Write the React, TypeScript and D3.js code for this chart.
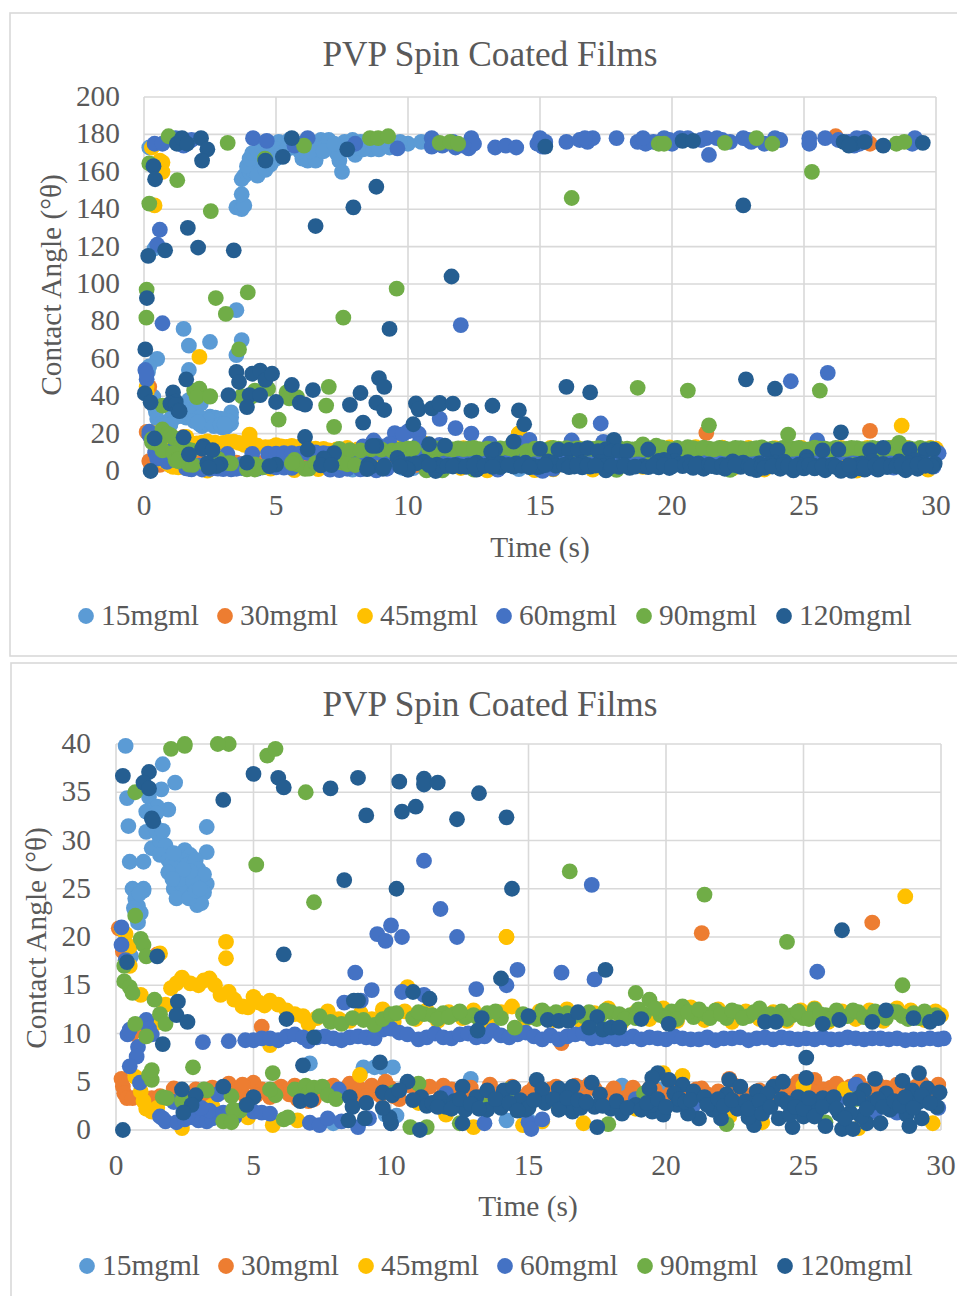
import React from "react";
import * as d3s from "d3";

type P = [number, number];

const seriesNames = ["15mgml", "30mgml", "45mgml", "60mgml", "90mgml", "120mgml"];
const seriesColors = ["#5B9BD5", "#ED7D31", "#FFC000", "#4472C4", "#70AD47", "#255E91"];
const xTicks = [0, 5, 10, 15, 20, 25, 30];
const yTicksTop = [0, 20, 40, 60, 80, 100, 120, 140, 160, 180, 200];
const yTicksBottom = [0, 5, 10, 15, 20, 25, 30, 35, 40];

// 15 mg/ml
const s15High: P[] = [[0.2,173],[0.4,119],[3.5,141],[3.7,140],[3.8,142],[3.7,148],[3.7,156],[3.8,158],[3.9,159],[4,160],[4.1,161],[4.2,163],[4.3,165],[4.4,167],[3.9,163],[4,167],[4.1,170],[4.3,171],[4.5,172],[4.7,173],[4.9,174],[5.1,176],[5.3,175],[5.5,177],[5.8,174],[6,167],[6.2,166],[6.4,174],[6.5,166],[6.7,177],[6.9,175],[7.1,173],[7.4,166],[7.5,160],[7.6,176],[7.8,174],[8,169],[8.2,176],[8.4,174],[8.6,172],[8.8,175],[9,174],[9.2,176],[9.5,175],[10,175],[10.5,176],[10.9,176],[4.6,176],[5,172],[5.6,173],[6.1,176],[6.6,172],[7,177],[7.3,170],[7.9,177],[8.3,172],[4.3,158],[4.6,161],[4.8,164],[5,167],[5.2,170],[5.4,172],[5.7,176],[5.9,171],[6.3,171],[6.8,171],[7.2,175],[7.7,172],[8.1,173],[8.5,177],[8.9,172],[9.3,173],[9.7,176]];
const s15Mid: P[] = [[0.5,60],[1.5,76],[1.7,67],[2.5,69],[3.7,70],[3.5,86],[3.5,62],[1.7,54],[0.2,56],[0.15,53]];
const s15Low: P[] = [[0.35,39.8],[0.4,34.4],[0.45,31.5],[1.7,37.9],[2.15,36],[1.65,35.3],[1.2,34.5],[1.9,33.2],[1.5,33.5],[1.1,33],[1.45,32.8],[1.1,30.9],[3.3,31.4],[3.3,28.8],[0.5,27.8],[1,27.8],[1.3,29.2],[1.6,30],[1.8,29.5],[1.6,28.5],[1.9,28],[2,27.5],[2.5,29],[2.7,28.5],[2.4,28],[2.2,27],[2.5,26.5],[2.9,26],[3.3,25.5],[3.2,24.6],[2.1,25],[2.2,24],[0.6,25],[1,25],[0.7,24],[0.9,22.5],[0.8,21.5],[2.4,25.5],[2.6,25],[2.8,24.5],[3,24],[2.95,23.3],[3.1,23.5],[1,24.8],[0.8,23.2],[0.55,18],[7.05,6.9],[9,6.5],[9.4,6.5],[9.7,6.5],[10.07,6.5],[12.9,5.3],[7.9,0.7],[10.2,1.5],[15,1],[16.9,4.4],[18.4,4.6],[19.8,4.2],[27,4.6],[28.7,2],[9.8,1.6],[14.2,1]];
const s15Fill: P[] = [[1.4,31.5],[1.5,30.8],[1.7,31],[2.1,28.7],[2.3,26],[2.6,27.5],[2.9,28],[3,27],[3.2,26.5],[2.8,25.8],[2.7,26.8],[2.45,27],[2.65,24],[2.9,24.8],[3.05,25],[1.9,26.7],[2.05,26],[0.65,23],[0.7,22.6],[0.85,24.5]];

// 30 mg/ml
const s30Out: P[] = [[26.2,179],[27.5,175],[0.2,45],[21.3,20.4],[27.5,21.5],[16.2,9],[5.3,10.7],[0.1,20.9],[0.25,18.5],[1.5,18.2],[0.6,10],[1.1,10.6]];
const s30Band: P[] = [[0.2,5.3],[0.25,4.5],[0.3,3.8],[0.4,3.3],[0.6,3.3],[1,3.2],[1.3,3.3],[1.6,3.5],[2,3.2],[2.3,4],[2.6,3.4],[2.9,4.2],[3.2,3.6],[3.5,4.4],[3.8,3.9],[4.1,4.8],[4.4,4.2],[4.7,3.5],[5,4.9],[5.3,4.2],[5.6,3.4],[6,4.5],[6.3,3.7],[6.6,3.2],[7,3],[7.3,3.8],[7.6,4.4],[8,3.6],[8.3,4.1],[8.6,3.3],[8.9,4.2],[9.3,4.6],[9.6,3.6],[10,4.3],[10.3,3.2],[10.7,4.6],[11,3.6],[11.4,4.5],[11.8,3.4],[12.2,4.2],[12.5,3],[12.9,4.4],[13.3,3.5],[13.6,4.7],[14,3.6],[14.4,4.5],[14.8,3.4],[15.2,4.4],[15.6,3.3],[16,4.5],[16.3,3.5],[16.7,4.6],[17,3.3],[17.4,4.3],[17.8,3.6],[18.1,4.3],[18.5,3.3],[18.8,4.4],[19.2,3.5],[19.6,4.1],[20,3.4],[20.4,4.4],[20.8,3.4],[21.1,4.2],[21.5,3.7],[21.9,4],[22.3,5.3],[22.7,4],[23,3.4],[23.4,4.1],[23.8,3.3],[24.1,4.1],[24.5,4.5],[24.8,5],[25.1,4.6],[25.4,5.2],[25.7,4.2],[26,4.4],[26.4,4.1],[26.7,4.5],[27,5],[27.3,4.2],[27.7,4.7],[28,4.4],[28.4,4.7],[28.7,3.8],[29.1,4.5],[29.5,3.6],[29.9,4.7]];
const s30Fill: P[] = [[2.1,4.3],[2.8,3.3],[3.4,3.2],[4.6,4.7],[5.1,3.6],[5.8,4.2],[6.5,4.6],[7.2,3.2],[7.9,4.6],[8.5,4.8],[9.1,3.5],[9.8,5],[10.1,3.5],[11.2,4.3],[11.9,4.6],[12.7,3.6],[13.1,3.1],[14.2,3.2],[15,3.9],[15.8,4.2],[16.5,4],[17.2,4.7],[18,3.2],[18.7,3.7],[19.4,4.3],[20.2,3.9],[21.3,4.3],[22,3.2],[22.5,4.6],[23.2,3.8],[24,4.8],[24.3,3.8],[24.9,3.4],[25.3,4],[25.9,3.6],[26.2,4.8],[26.9,3.9],[27.5,3.5],[27.9,3.4],[28.2,3.6],[28.9,3.4],[29.3,4.8],[29.7,4.2]];

// 45 mg/ml
const s45Out: P[] = [[0.3,173],[0.4,142],[0.6,166],[0.7,165],[0.7,160],[2.1,61],[0.1,45],[0.1,42],[0.2,20.9],[0.35,20.3],[0.5,19],[1.6,18.3],[4,19.5],[4,17.8],[14.2,20],[28.7,24.2],[14.2,20],[10.6,14.8],[0.5,17],[0.9,14],[5.6,8.8]];
const s45Band: P[] = [[1.4,11],[1.8,13],[2,14.7],[2.2,15.2],[2.4,15.8],[2.7,15.2],[3,15],[3.2,15.5],[3.4,15.7],[3.6,15],[3.8,14],[4.1,14.3],[4.3,13.5],[4.6,12.8],[4.8,12.7],[5,13.8],[5.2,13.2],[5.4,12.9],[5.6,13.4],[5.9,13],[6.2,12.4],[6.5,12],[6.8,11.8],[7,11],[7.3,11.6],[7.7,12.3],[8.1,11.5],[8.5,11.3],[8.9,12.1],[9.3,11.5],[9.7,12.5],[10.1,11.2],[10.5,12.3],[10.9,11.5],[11.3,12.4],[11.7,11.3],[12.1,12.2],[12.6,11.6],[13,12.4],[13.5,11.2],[14,12.2],[14.4,12.8],[14.9,11.5],[15.4,12.3],[15.9,11.4],[16.4,12.5],[16.9,11.3],[17.4,12.1],[17.9,12.6],[18.4,11.2],[18.9,12.2],[19.4,11.5],[19.9,12.6],[20.4,11.3],[20.9,12.7],[21.4,11.4],[21.9,12.5],[22.4,11.2],[22.9,12.3],[23.4,11.5],[23.9,12.2],[24.4,11.3],[24.9,12.4],[25.4,12.6],[25.9,11.2],[26.4,12.3],[26.9,11.5],[27.4,12.4],[27.9,11.3],[28.4,12.6],[28.9,12.4],[29.4,11.4],[29.8,12.3],[30,11.9]];
const s45Low: P[] = [[0.7,5.5],[0.9,4],[1,3],[1.1,2.2],[1.3,1.9],[1.5,2.3],[2.4,0.2],[3.2,1.6],[3.5,2.5],[4.8,1.3],[5.7,0.5],[8.87,5.7],[13,0.3],[14.8,0.5],[17,0.7],[19.9,5.9],[12,1.6],[11,2.8],[6.6,1],[15.5,0.9],[16.1,2.4],[18.9,2.2],[22.3,1.4],[23.5,0.8],[27,0.2],[29.7,0.7],[25,4.6],[20.6,5.6],[26.5,4.2]];

// 60 mg/ml
const s60High: P[] = [[0.4,175],[0.7,175],[1.2,178],[1.5,174],[1.8,177],[4.13,178],[4.65,176.5],[6.2,178],[5.7,174],[8,175],[9.6,172.5],[10.9,178],[10.9,173.5],[11.3,174],[11.8,173],[12.3,172.5],[12.4,178],[12.5,175],[13.3,173],[13.7,174],[14.1,173],[15,178],[15.2,176],[15.1,173.5],[16,176],[16.5,177],[16.8,176],[17,178],[17.9,178],[18.7,176],[19,175],[19.3,176],[19.7,178],[20,175],[20.3,178],[20.4,177],[21.1,177],[21.3,178],[21.4,169],[21.9,177],[22.2,176],[22.7,178],[23,176],[23.5,175],[23.9,178],[24.1,177],[25.2,178],[25.2,175],[25.8,178],[26.3,177],[26.7,176],[27,178],[27.3,178],[29.2,178],[11,175],[11.7,176],[12.1,174],[14.9,175],[16.7,178],[18.9,178],[19.9,177],[20.6,178],[21.7,178],[22.9,177],[26.9,174],[27.1,175],[29.1,175]];
const s60Mid: P[] = [[0.6,129],[0.5,121],[0.7,79],[12,78],[24.5,48],[25.9,52.5],[0.05,54],[0.1,49],[0.1,52],[11.2,27.9],[17.3,25.4],[11.8,22.9],[12.4,20],[10,21.2],[9.5,20.3],[9.8,19.6],[10.4,20],[8.7,16.3],[9.3,14.5],[14.6,16.6],[14.2,15],[13.1,14.6],[16.2,16.3],[17.4,15.6],[8.3,13.2],[8.9,13.4],[11.2,14],[25.5,16.4],[10.4,14.3],[0.2,21],[0.2,19.2],[0.35,17.6]];
const s60Band: P[] = [[3.16,9.1],[4.1,9.2],[4.7,9.3],[5,9.3],[5.3,9.5],[5.6,9.5],[5.9,9.3],[6.2,9.7],[6.5,9.9],[6.8,9.6],[7,9.2],[7.3,9.6],[7.6,9.7],[7.9,9.5],[8.2,9.3],[8.5,9.6],[8.8,9.7],[9.1,9.6],[9.4,9.5],[9.7,10.4],[10,10.5],[10.3,10.1],[10.6,9.9],[11,9.4],[11.3,9.6],[11.6,10],[11.9,9.6],[12.2,9.5],[12.5,9.9],[12.8,10],[13.1,9.6],[13.4,9.7],[13.7,10.3],[14,9.8],[14.3,9.6],[14.6,9.9],[14.9,10.1],[15.2,9.7],[15.5,9.4],[15.8,9.8],[16.1,9.4],[16.4,9.7],[16.7,9.9],[17,10],[17.3,9.5],[17.6,9.6],[17.9,9.7],[18.2,9.4],[18.5,9.5],[18.8,9.7],[19.1,9.4],[19.4,9.6],[19.7,9.5],[20,9.4],[20.3,9.7],[20.6,9.5],[20.9,9.4],[21.2,9.4],[21.5,9.6],[21.8,9.3],[22.1,9.5],[22.4,9.5],[22.7,9.6],[23,9.3],[23.3,9.5],[23.6,9.6],[23.9,9.4],[24.2,9.6],[24.5,9.5],[24.8,9.4],[25.1,9.5],[25.4,9.4],[25.7,9.6],[26,9.4],[26.3,9.4],[26.6,9.6],[26.9,9.5],[27.2,9.4],[27.5,9.5],[27.8,9.5],[28.1,9.4],[28.4,9.5],[28.7,9.3],[29,9.4],[29.3,9.4],[29.6,9.5],[29.9,9.4],[30.1,9.5]];
const s60Low: P[] = [[0.42,9.9],[0.5,10.4],[1.1,11.4],[1.2,10.5],[1.3,9.9],[0.8,8.6],[0.75,7.6],[0.5,6.6],[0.87,4.9],[1.6,1.4],[1.8,0.9],[2.2,0.8],[2.5,1.1],[2.8,1.3],[3,1],[3.3,0.9],[3.5,1.2],[3.7,1.6],[3.4,2],[3.9,1.8],[4.1,1.7],[4.3,1.3],[4.5,2],[4.8,2.4],[5,1.9],[5.3,1.8],[5.6,1.7],[1.7,1.2],[2.6,1.5],[3.1,2.3],[2.1,2.9],[3.7,3.7],[7.05,0.75],[7.4,0.5],[7.7,1.2],[8.2,0.9],[8.8,0.3],[9.2,1.2],[10,0.7],[13.4,0.7],[15,0.8],[15.1,0.1],[15.5,1.1],[14.8,2],[8.1,4.2],[26.9,4.7],[28.4,1.8],[29.9,2.3],[12,3.8],[16.5,4],[18.9,3.2],[21,2.6],[23.4,2.8],[24.9,2.2],[26.2,2.9],[27.6,1.9],[29.1,3.2]];

// 90 mg/ml
const s90High: P[] = [[0.93,179],[3.17,175.5],[0.2,164.5],[1.26,155.5],[2.53,139],[0.2,143],[0.1,97],[2.72,92.5],[3.93,95.5],[3.1,84],[0.09,82],[7.55,82],[9.57,97.5],[4.58,167],[6.06,174],[8.56,178],[8.87,178],[9.25,179],[11.2,175.5],[11.6,176],[11.9,175],[16.2,146],[25.3,160],[19.5,175],[19.7,175],[22,175.5],[23.2,178],[23.8,175],[28.5,175],[28.8,176],[3.6,65],[1.9,43],[2.1,44],[2,41],[2.5,40],[4.1,40],[4.2,43],[4.7,44],[5.4,42],[7,45],[18.7,44.5],[20.6,43],[25.6,43]];
const s90Low: P[] = [[0.7,35],[0.7,22.2],[2,39.5],[2.5,39.8],[3.7,40],[5.5,38.8],[5.8,39.5],[6.9,35],[5.1,27.5],[7.2,23.6],[16.5,26.8],[21.4,24.4],[24.4,19.5],[28.6,15],[18.9,14.2],[0.9,19.8],[1,19.2],[1.1,18],[0.3,17],[0.3,15.4],[0.5,14.8],[0.6,14.2],[1.4,13.5],[1.6,12],[1.8,11],[0.7,11],[1.1,9.7],[1.3,5.2],[1.2,5.7],[1.3,6.2],[1.7,3.4],[2.4,3],[3.2,4.2],[2.8,6.5],[5.7,5.9],[6.1,1.1],[3.9,0.9],[4.5,2],[4.2,3.5],[4.26,2.1],[4.2,0.8],[3.3,4.1],[1.85,3.3],[6.25,1.3],[5.8,3.6],[5.6,4.2],[6.5,4.2],[6.9,4.6],[7,3.8],[7.2,4.4],[7.5,4.5],[7.7,3.6],[8,3.2],[10.7,0.3],[11.3,0.3],[12.5,0.7],[13.4,2.5],[14.3,4.2],[17.9,0.6],[19.2,3.8],[22.2,0.6],[25.8,0.8],[26.9,3.2],[28.8,2.7],[11,4.8],[10.1,3.9],[14.1,3.2]];
const s90Band: P[] = [[7.4,11.8],[7.8,11.2],[8.2,11],[8.6,11.6],[9,11.4],[9.4,10.9],[9.7,11.5],[10,12],[10.2,12.1],[10.8,11.6],[11.2,12],[11.5,11.9],[11.9,12.1],[12.3,12],[12.7,11.7],[13,11.9],[13.5,12.1],[14,11.6],[14.5,10.6],[14.8,12],[15.3,11.5],[15.7,12],[16,12.2],[16.4,12.1],[16.8,12],[17.2,12.2],[17.6,11.8],[18,12.2],[18.3,12],[18.7,11.9],[19,12.5],[19.4,13.5],[19.8,11.9],[20.2,12.3],[20.6,12.8],[21,11.7],[21.4,12],[21.8,12.4],[22.2,11.6],[22.6,12.2],[23,11.8],[23.4,12.6],[23.8,12],[24.2,12.3],[24.6,11.9],[25,11.6],[25.4,12.5],[25.8,11.9],[26.2,12.4],[26.6,11.8],[27,12.2],[27.4,11.7],[27.8,11.9],[28.2,12.3],[28.6,11.8],[29,12.1],[29.4,12.3],[29.8,11.9]];
const s90Fill: P[] = [[11,12.2],[11.7,11.5],[12.1,11.7],[12.5,12.3],[13.2,11.5],[13.8,12.3],[15,11.7],[15.5,12.4],[16.2,11.6],[16.6,11.7],[17,11.8],[17.4,11.7],[17.8,12.4],[18.5,11.5],[18.9,11.6],[19.2,12],[19.6,12.6],[20,11.6],[20.4,11.5],[20.8,12.2],[21.2,12.5],[21.6,11.6],[22,12],[22.4,12.4],[22.8,11.6],[23.2,12.2],[23.6,11.6],[24,11.6],[24.4,11.5],[24.8,12.3],[25.2,11.5],[25.6,12],[26,11.5],[26.4,11.7],[26.8,12.4],[27.2,11.7],[27.6,12.3],[28,11.6],[28.4,12.2],[28.8,11.5],[29.2,11.6],[29.6,11.7]];

// 120 mg/ml
const s120High: P[] = [[0.16,115],[0.8,118],[1.66,130],[2.05,119.5],[3.4,118],[0.11,92.5],[0.36,163],[0.42,156],[1.25,175],[1.44,178],[1.63,175],[2.16,178],[2.4,172],[2.2,166],[4.6,166],[5.26,168],[5.6,178],[7.7,172],[7.93,141],[8.8,152],[6.5,131],[11.65,104],[9.3,76],[0.05,65],[15.2,173.5],[22.7,142],[20.4,176.5],[20.8,176.5],[26.5,176],[26.9,175],[27.3,176],[28,174],[29.5,175.5],[26.7,174]];
const s120Mid: P[] = [[1.6,49],[1.1,42],[0.03,41.5],[3.5,53],[3.6,47.6],[3.2,40.6],[4.1,52],[4.4,53.7],[4.6,48.7],[4.85,52],[4,40.6],[4.4,40.6],[5.6,46],[6.4,43.3],[8.2,41.7],[8.9,49.7],[9.1,45],[16,45],[16.9,42],[22.8,49],[23.9,44]];
const s120Low: P[] = [[0.25,36.7],[1.2,37.1],[1,36],[1.2,35.4],[1.3,32.3],[1.35,32],[3.9,34.2],[5,36.9],[5.9,36.5],[6.1,35.5],[7.8,35.4],[8.8,36.5],[9.1,32.6],[10.3,36.1],[10.4,33],[10.9,33.5],[11.2,36.4],[11.2,35.8],[11.7,36],[12.4,32.2],[13.2,34.9],[14.2,32.4],[8.3,25.9],[10.2,25],[14.4,25],[6.1,18.2],[0.4,17.4],[1.5,18],[26.4,20.7],[17.8,16.6],[14,15.7],[8.8,13.4],[10.8,14.3],[11.4,13.6],[2.25,13.3],[2.2,11.9],[2.6,11.2],[1.7,8.9],[8.65,13.4],[6.2,11.5],[7.2,9.6],[6.8,6.7],[9.6,7],[13.3,11.6],[13.15,10.3],[15,11.8],[15.7,11.4],[16.1,11.3],[16.45,11.3],[16.8,12.2],[17.5,11.7],[17.2,10.6],[17.7,10.4],[18,10.6],[18.3,10.6],[19.1,11.5],[20.1,11],[23.6,11.2],[24,11.2],[25.7,11],[26.3,11.4],[27.5,11.2],[28,12.4],[29,11.6],[29.6,11.2],[29.9,11.6],[25.1,7.5],[25.1,5.4]];
const s120Band: P[] = [[0.25,0],[2.4,4.2],[2.9,3.6],[2.75,2.6],[2.45,1.8],[3.9,4.5],[5,3.4],[4.75,2.6],[6.7,3],[7.1,3.1],[8.5,3.4],[8.6,2.4],[8.45,1],[9.05,1.2],[9.1,2.8],[9.7,3.9],[10.05,3.6],[10.6,5],[10.3,4.1],[10,0.7],[9.95,1.3],[9.7,2.3],[11.05,0],[11.1,3.4],[11.3,2.5],[11.5,2.8],[11.8,3.3],[12,2.4],[12.3,3],[12.6,4.5],[13.1,3.4],[12.6,0.7],[12.7,2.1],[13.5,4.1],[13.5,2.1],[14.1,4.1],[14.45,4.4],[14,2.3],[14.7,3.1],[14.9,2.1],[15.3,5.2],[15.5,4.2],[16.1,4.3],[16.6,4.5],[17.3,4.9],[17.6,3.7],[15,2.3],[15.6,2.8],[16.3,2.4],[16.6,1.9],[16.9,2.3],[17.4,2.4],[18,2.2],[18.4,1.7],[18.9,2.6],[19.5,1.9],[19.5,2.6],[19.9,1.6],[20.6,4.7],[20.1,5.2],[19.7,5.9],[19.5,5.4],[19.4,4.3],[20.3,3.8],[21,4],[20.4,2.6],[21.2,1.2],[20.8,1.7],[17.5,0.3],[22,1.2],[21.7,2.1],[22.3,5.2],[22.7,4.5],[22.2,3.7],[22.6,2.2],[23.2,0.5],[23,1.3],[23.3,4],[23.9,4.5],[24.25,5],[23.7,3.8],[24.8,3.4],[24.1,1.2],[24.6,0.3],[25,1.4],[24.5,1.6],[25.35,3],[25.7,3.3],[25.5,2],[26,2.8],[26.3,1.7],[25.8,0.4],[26.4,0.1],[26.8,0.1],[27.2,4.1],[27,3.3],[27.5,2.8],[28,3.8],[27.6,5.3],[27.3,0.7],[27.8,0.7],[28.15,2.1],[28.75,1.6],[28.85,0.4],[29.3,1.2],[28.6,5.1],[29.2,5.9],[28.95,4.1],[29.5,4.3],[29.95,3.9],[29.2,2.9],[29.85,2.4],[27.1,1.4],[26.7,1.8]];
const s120Fill: P[] = [[10.8,3.1],[11.7,2.4],[12.2,2.2],[12.5,3.2],[12.9,2.7],[13.2,2.2],[13.8,3.2],[14.3,2.8],[14.6,2],[15.2,3.1],[15.9,3.2],[16.1,2.1],[16.4,3.3],[16.8,3.1],[17.1,2.9],[17.7,2.5],[18.2,3],[18.6,2.3],[19.1,2.1],[19.3,2.8],[19.7,3.2],[20,2.4],[20.5,3.2],[20.7,2.9],[20.9,3.1],[21.4,3.4],[21.5,2.6],[21.9,3.2],[22.1,2.5],[22.4,3.1],[22.9,3],[23,2.2],[23.4,3],[23.5,1.7],[23.8,2.4],[24.2,3.2],[24.4,2.8],[24.7,2.4],[25,2.2],[25.2,3.3],[25.4,1.4],[25.7,2.4],[26.1,3.4],[26.2,2.2],[26.5,1.2],[26.7,3.1],[27.3,2.2],[27.7,3.2],[27.9,2.4],[28.3,3],[28.5,2.5],[28.7,3.4],[29,2.3],[29.3,3.6],[29.6,2.8]];

const seriesData: P[][] = [
  [...s15High, ...s15Mid, ...s15Low, ...s15Fill],
  [...s30Band, ...s30Fill, ...s30Out],
  [...s45Band, ...s45Low, ...s45Out],
  [...s60High, ...s60Band, ...s60Mid, ...s60Low],
  [...s90High, ...s90Band, ...s90Fill, ...s90Low],
  [...s120High, ...s120Mid, ...s120Low, ...s120Band, ...s120Fill],
];

const FONT = "'Liberation Serif','Times New Roman',serif";
const TXT = "#595959";
const GRID = "#d9d9d9";
const FS = 29.4;

interface PanelProps {
  yMax: number; yTicks: number[];
  x0: number; x1: number; yBase: number; yTop: number;
  titleX: number; titleY: number; xTitleX: number; xTitleY: number; xTickY: number;
  yTitleX: number; yTitleY: number; yLabelX: number;
  legendY: number; legendDots: number[];
  frame: [number, number, number, number];
}

const legendLabelGap = 15;
const DOT = 7.9;

function Panel(p: PanelProps) {
  const x = d3s.scaleLinear().domain([0, 30]).range([p.x0, p.x1]);
  const y = d3s.scaleLinear().domain([0, p.yMax]).range([p.yBase, p.yTop]);
  return (
    <g fontFamily={FONT} fill={TXT}>
      <rect x={p.frame[0]} y={p.frame[1]} width={p.frame[2]} height={p.frame[3]} fill="#fff" stroke={GRID} strokeWidth={1.6} />
      <text x={p.titleX} y={p.titleY} textAnchor="middle" fontSize={35.3}>PVP Spin Coated Films</text>
      {p.yTicks.map((t) => (
        <line key={"h" + t} x1={p.x0} x2={p.x1} y1={y(t)} y2={y(t)} stroke={GRID} strokeWidth={1.6} />
      ))}
      {xTicks.map((t) => (
        <line key={"v" + t} x1={x(t)} x2={x(t)} y1={p.yTop} y2={p.yBase} stroke={GRID} strokeWidth={1.6} />
      ))}
      {p.yTicks.map((t) => (
        <text key={"yl" + t} x={p.yLabelX} y={y(t) + 9} textAnchor="end" fontSize={FS}>{t}</text>
      ))}
      {xTicks.map((t) => (
        <text key={"xl" + t} x={x(t)} y={p.xTickY} textAnchor="middle" fontSize={FS}>{t}</text>
      ))}
      <text x={p.xTitleX} y={p.xTitleY} textAnchor="middle" fontSize={FS}>Time (s)</text>
      <text transform={`translate(${p.yTitleX},${p.yTitleY}) rotate(-90)`} textAnchor="middle" fontSize={FS}>Contact Angle (°θ)</text>
      {seriesData.map((pts, i) => (
        <g key={seriesNames[i]} fill={seriesColors[i]}>
          {pts.filter((d) => d[1] <= p.yMax).map((d, j) => (
            <circle key={j} cx={x(d[0])} cy={y(d[1])} r={DOT} />
          ))}
        </g>
      ))}
      {seriesNames.map((n, i) => (
        <g key={"leg" + n}>
          <circle cx={p.legendDots[i]} cy={p.legendY} r={DOT} fill={seriesColors[i]} />
          <text x={p.legendDots[i] + legendLabelGap} y={p.legendY + 9} fontSize={FS}>{n}</text>
        </g>
      ))}
    </g>
  );
}

export default function App() {
  return (
    <svg width={957} height={1296} viewBox="0 0 957 1296" style={{ position: "absolute", left: 0, top: 0, display: "block" }}>
      <rect width={957} height={1296} fill="#fff" />
      <Panel yMax={200} yTicks={yTicksTop} x0={144} x1={936} yBase={471} yTop={97}
        titleX={490} titleY={66} xTitleX={540} xTitleY={557} xTickY={515}
        yTitleX={61} yTitleY={285} yLabelX={120} legendY={616}
        legendDots={[86, 225, 365, 504, 644, 784]} frame={[10, 13, 960, 643]} />
      <Panel yMax={40} yTicks={yTicksBottom} x0={116} x1={941} yBase={1130} yTop={744}
        titleX={490} titleY={716} xTitleX={528} xTitleY={1216} xTickY={1175}
        yTitleX={46} yTitleY={938} yLabelX={91} legendY={1266}
        legendDots={[87, 226, 366, 505, 645, 785]} frame={[11, 663, 960, 650]} />
    </svg>
  );
}
